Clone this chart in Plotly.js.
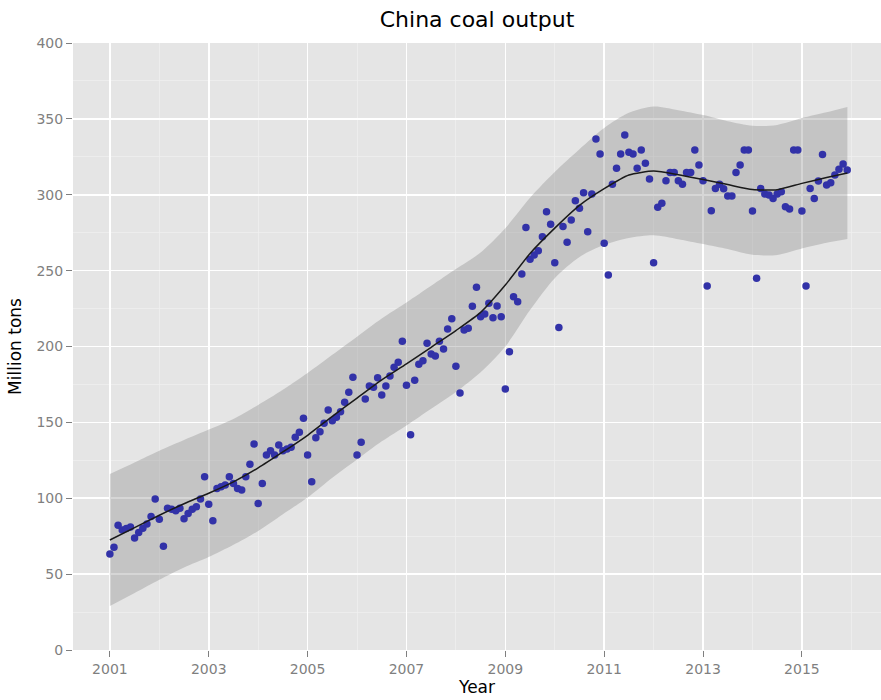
<!DOCTYPE html>
<html>
<head>
<meta charset="utf-8">
<script src="https://cdn.plot.ly/plotly-3.0.1.min.js"></script>
<style>
  html, body { margin: 0; padding: 0; background: #ffffff; }
  #chart { width: 881px; height: 700px; }
</style>
</head>
<body>
<div id="chart"></div>
<script>
// Monthly coal output, January 2001 onward (million tons)
const firstYear = 2001;
const monthlyOutput = [
  63.3, 67.7, 82.2, 79.0, 80.0, 81.0, 73.8, 77.5, 80.2, 83.0, 87.9, 99.5,
  86.1, 68.3, 93.4, 92.7, 91.8, 93.4, 86.5, 90.0, 92.7, 94.4, 99.5, 114.2,
  96.0, 85.2, 106.5, 107.6, 108.7, 114.2, 109.8, 106.5, 105.4, 114.2, 122.4, 135.7,
  96.6, 109.8, 128.5, 131.3, 128.5, 135.1, 131.3, 132.5, 133.6, 140.2, 143.5, 152.7,
  128.5, 110.9, 139.9, 143.9, 149.4, 158.2, 151.1, 153.3, 157.0, 163.2, 169.8, 179.7,
  128.5, 136.9, 165.4, 174.0, 173.1, 179.4, 168.0, 174.0, 180.6, 186.3, 189.6, 203.4,
  174.4, 141.9, 177.7, 188.3, 190.6, 202.1, 195.0, 193.7, 203.4, 198.4, 211.5, 218.3,
  187.0, 169.4, 210.9, 212.0, 226.5, 239.0, 219.6, 221.4, 228.5, 219.0, 226.7, 219.6,
  172.0, 196.6, 232.8, 229.5, 247.8, 278.5, 257.5, 260.3, 263.1, 272.4, 288.8, 280.5,
  255.2, 212.6, 279.0, 268.7, 283.4, 296.1, 291.1, 301.4, 275.7, 300.5, 336.7, 326.9,
  268.0, 247.1, 306.9, 317.4, 326.9, 339.4, 328.0, 326.9, 317.4, 329.5, 320.7, 310.4,
  255.2, 291.7, 294.4, 309.3, 314.6, 314.6, 309.3, 306.9, 314.6, 314.6, 329.5, 319.6,
  309.3, 239.9, 289.5, 304.2, 307.0, 304.0, 299.2, 299.2, 314.6, 319.6, 329.5, 329.5,
  289.3, 244.9, 304.2, 300.5, 299.8, 297.6, 300.5, 302.0, 292.1, 290.6, 329.5, 329.5,
  289.3, 239.9, 304.2, 297.6, 309.0, 326.6, 306.4, 307.9, 313.0, 316.8, 320.3, 316.3
];

// Smoothed trend and its band, sampled every half year
const trendYear = [
  2001.0, 2001.5, 2002.0, 2002.5, 2003.0, 2003.5, 2004.0, 2004.5, 2005.0, 2005.5,
  2006.0, 2006.5, 2007.0, 2007.5, 2008.0, 2008.5, 2009.0, 2009.5, 2010.0, 2010.5,
  2011.0, 2011.5, 2012.0, 2012.5, 2013.0, 2013.5, 2014.0, 2014.5, 2015.0, 2015.5, 2015.92
];
const trendFit = [
  72.5, 80.6, 88.8, 96.4, 103.3, 110.8, 120.0, 130.5, 141.5, 154.0,
  166.0, 178.0, 188.5, 199.5, 210.5, 222.5, 240.5, 261.3, 278.0, 293.0,
  304.0, 313.0, 315.6, 313.2, 310.0, 306.7, 303.4, 303.3, 307.5, 311.3, 314.3
];
const trendLow = [
  29.0, 37.6, 46.3, 54.4, 61.3, 69.3, 78.5, 89.5, 100.5, 113.5,
  125.5, 137.5, 148.0, 159.0, 170.0, 183.0, 200.0, 224.0, 245.0, 259.0,
  267.0, 271.5, 273.3, 270.7, 267.5, 264.2, 260.4, 260.3, 264.5, 268.3, 270.8
];
const trendHigh = [
  116.0, 123.6, 131.3, 138.4, 145.3, 152.3, 161.5, 171.5, 182.5, 194.5,
  206.5, 218.5, 229.0, 240.0, 251.0, 262.0, 278.0, 298.0, 315.0, 330.0,
  344.0, 354.0, 358.1, 355.7, 352.5, 348.5, 345.5, 346.0, 350.5, 354.3, 357.8
];

const yearTicks = [2001, 2003, 2005, 2007, 2009, 2011, 2013, 2015];
const outputTicks = [0, 50, 100, 150, 200, 250, 300, 350, 400];

// decimal-year position of each month
const monthYear = monthlyOutput.map((_, i) => firstYear + i / 12);

const font = "DejaVu Sans, Liberation Sans, sans-serif";
const tickGray = "#7f7f7f";

const traces = [
  {
    x: trendYear, y: trendLow, type: "scatter", mode: "lines",
    line: { width: 0, shape: "spline", smoothing: 0.8 },
    hoverinfo: "skip", showlegend: false
  },
  {
    x: trendYear, y: trendHigh, type: "scatter", mode: "lines",
    line: { width: 0, shape: "spline", smoothing: 0.8 },
    fill: "tonexty", fillcolor: "rgba(120,120,120,0.3)",
    hoverinfo: "skip", showlegend: false
  },
  {
    x: monthYear, y: monthlyOutput, type: "scatter", mode: "markers",
    marker: { size: 7.5, color: "rgb(50,50,168)" },
    showlegend: false
  },
  {
    x: trendYear, y: trendFit, type: "scatter", mode: "lines",
    line: { color: "#1a1a1a", width: 1.5, shape: "spline", smoothing: 0.6 },
    showlegend: false
  }
];

const layout = {
  width: 881, height: 700,
  margin: { l: 73, r: 0, t: 43, b: 50 },
  paper_bgcolor: "#ffffff",
  plot_bgcolor: "#e5e5e5",
  font: { family: font, color: "#000000" },
  title: {
    text: "China coal output",
    font: { family: font, size: 22, color: "#000000" },
    x: 0.5, xref: "paper", xanchor: "center",
    y: 1 - 19 / 700, yref: "container", yanchor: "middle"
  },
  xaxis: {
    range: [2000.254, 2016.60],
    tickmode: "array", tickvals: yearTicks, ticktext: yearTicks.map(String),
    ticks: "outside", ticklen: 6, tickwidth: 1, tickcolor: tickGray,
    tickfont: { family: font, size: 14, color: tickGray },
    showgrid: true, gridcolor: "#ffffff", gridwidth: 1.6,
    minor: { dtick: 1, tick0: 2001, showgrid: true, gridcolor: "#efefef", gridwidth: 0.8, ticks: "" },
    zeroline: false, showline: false,
    title: { text: "Year", font: { family: font, size: 17, color: "#000000" }, standoff: 4 }
  },
  yaxis: {
    range: [0, 400],
    tickmode: "array", tickvals: outputTicks, ticktext: outputTicks.map(String),
    ticks: "outside", ticklen: 6, tickwidth: 1, tickcolor: tickGray,
    tickfont: { family: font, size: 14, color: tickGray },
    showgrid: true, gridcolor: "#ffffff", gridwidth: 1.6,
    minor: { dtick: 25, tick0: 0, showgrid: true, gridcolor: "#efefef", gridwidth: 0.8, ticks: "" },
    zeroline: false, showline: false,
    title: { text: "Million tons", font: { family: font, size: 17, color: "#000000" }, standoff: 10 }
  }
};

Plotly.newPlot("chart", traces, layout, { displayModeBar: false, staticPlot: true });
</script>
</body>
</html>
